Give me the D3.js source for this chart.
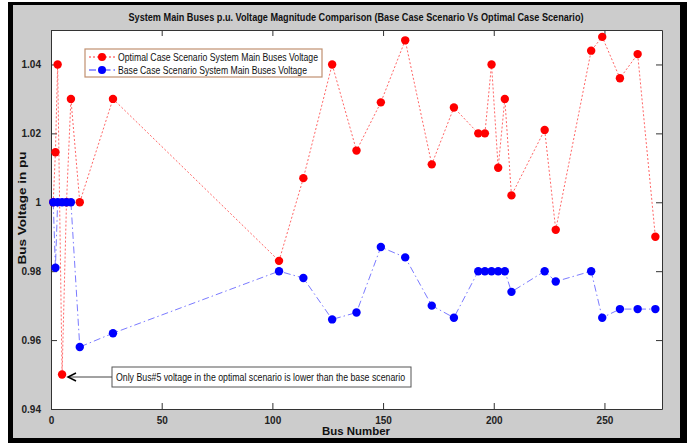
<!DOCTYPE html>
<html>
<head>
<meta charset="utf-8">
<script src="https://cdn.jsdelivr.net/npm/d3@7"></script>
<style>
  body { margin: 0; background: #fff; }
  text { font-family: "Liberation Sans", Arial, sans-serif; }
</style>
</head>
<body>
<div id="chart"></div>
<script>
// bus numbers shared by both scenarios
const buses = [1, 2, 3, 5, 7, 9, 13, 28, 103, 114, 127, 138, 149, 160, 172, 182, 193, 196, 199, 202, 205, 208, 223, 228, 244, 249, 257, 265, 273];
const optimalV = [1.000, 1.0145, 1.040, 0.950, 1.000, 1.030, 1.000, 1.030, 0.983, 1.007, 1.040, 1.015, 1.029, 1.047, 1.011, 1.0275, 1.020, 1.020, 1.040, 1.010, 1.030, 1.002, 1.021, 0.992, 1.044, 1.048, 1.036, 1.043, 0.990];
const baseV = [1.000, 0.981, 1.000, 1.000, 1.000, 1.000, 0.958, 0.962, 0.980, 0.978, 0.966, 0.968, 0.987, 0.984, 0.970, 0.9665, 0.980, 0.980, 0.980, 0.980, 0.980, 0.974, 0.980, 0.977, 0.980, 0.9665, 0.969, 0.969, 0.969];
const xTicks = [0, 50, 100, 150, 200, 250];
const yTicks = [0.94, 0.96, 0.98, 1.00, 1.02, 1.04];
const legendLabels = ["Optimal Case Scenario System Main Buses Voltage", "Base Case Scenario System Main Buses Voltage"];
const noteText = "Only Bus#5 voltage in the optimal scenario is lower than the base scenario";

const W = 691, H = 443;
const svg = d3.select("#chart").append("svg")
  .attr("width", W).attr("height", H);

// figure frame
svg.append("rect").attr("x", 8).attr("y", 2).attr("width", 679).attr("height", 441).attr("fill", "#000");
svg.append("rect").attr("x", 13).attr("y", 5).attr("width", 667).attr("height", 433).attr("fill", "#cccccc");

const x = d3.scaleLinear().domain([0, 276]).range([51, 662]);
const y = d3.scaleLinear().domain([0.94, 1.05]).range([409, 30]);

// axes box
svg.append("rect")
  .attr("x", x(0)).attr("y", y(1.05))
  .attr("width", x(276) - x(0)).attr("height", y(0.94) - y(1.05))
  .attr("fill", "#fff");

const tickFmt = d => d === 1 ? "1" : d3.format(".2f")(d);

svg.append("g").attr("transform", `translate(0,${y(0.94)})`)
  .call(d3.axisBottom(x).tickValues(xTicks).tickSizeInner(-6).tickSizeOuter(0).tickPadding(8))
  .call(g => g.selectAll("text").attr("font-size", 10).attr("font-weight", "bold").attr("fill", "#222"));
svg.append("g").attr("transform", `translate(0,${y(1.05)})`)
  .call(d3.axisTop(x).tickValues(xTicks).tickSizeInner(-6).tickSizeOuter(0).tickFormat(""));
svg.append("g").attr("transform", `translate(${x(0)},0)`)
  .call(d3.axisLeft(y).tickValues(yTicks).tickSizeInner(-6).tickSizeOuter(0).tickPadding(10).tickFormat(tickFmt))
  .call(g => g.selectAll("text").attr("font-size", 10).attr("font-weight", "bold").attr("fill", "#222"));
svg.append("g").attr("transform", `translate(${x(276)},0)`)
  .call(d3.axisRight(y).tickValues(yTicks).tickSizeInner(-6).tickSizeOuter(0).tickFormat(""));
svg.selectAll(".domain").attr("stroke", "#333");
svg.selectAll(".tick line").attr("stroke", "#333");

// series
const line = d3.line().x(d => x(d[0])).y(d => y(d[1]));
const optPts = buses.map((b, i) => [b, optimalV[i]]);
const basePts = buses.map((b, i) => [b, baseV[i]]);

svg.append("path").datum(optPts).attr("d", line)
  .attr("fill", "none").attr("stroke", "#ff3333").attr("stroke-opacity", 0.75)
  .attr("stroke-width", 1).attr("stroke-dasharray", "2,2");
svg.append("g").selectAll("circle").data(optPts).join("circle")
  .attr("cx", d => x(d[0])).attr("cy", d => y(d[1])).attr("r", 4.2).attr("fill", "#ff0000");

svg.append("path").datum(basePts).attr("d", line)
  .attr("fill", "none").attr("stroke", "#3333ff").attr("stroke-opacity", 0.65)
  .attr("stroke-width", 1).attr("stroke-dasharray", "7,3,1.5,3");
svg.append("g").selectAll("circle").data(basePts).join("circle")
  .attr("cx", d => x(d[0])).attr("cy", d => y(d[1])).attr("r", 4.2).attr("fill", "#0000ff");

// legend
const lg = svg.append("g");
lg.append("rect").attr("x", 85).attr("y", 49).attr("width", 237).attr("height", 28)
  .attr("fill", "#fff").attr("stroke", "#c09070").attr("stroke-width", 1.2);
const lgStyles = [
  { stroke: "#ff3333", dash: "2,2", fill: "#ff0000", w: 200 },
  { stroke: "#3333ff", dash: "7,3,1.5,3", fill: "#0000ff", w: 189 }
];
legendLabels.forEach((t, i) => {
  const cy = 57 + i * 13;
  lg.append("line").attr("x1", 89).attr("x2", 115).attr("y1", cy).attr("y2", cy)
    .attr("stroke", lgStyles[i].stroke).attr("stroke-dasharray", lgStyles[i].dash);
  lg.append("circle").attr("cx", 102).attr("cy", cy).attr("r", 4).attr("fill", lgStyles[i].fill);
  lg.append("text").attr("x", 118).attr("y", cy + 3.5).attr("font-size", 10.5)
    .attr("textLength", lgStyles[i].w).attr("lengthAdjust", "spacingAndGlyphs")
    .attr("fill", "#111").text(t);
});

// annotation
const ng = svg.append("g");
ng.append("rect").attr("x", 112).attr("y", 367).attr("width", 299).attr("height", 20)
  .attr("fill", "#fff").attr("stroke", "#555").attr("stroke-width", 1);
ng.append("text").attr("x", 116).attr("y", 381).attr("font-size", 10.5)
  .attr("textLength", 289).attr("lengthAdjust", "spacingAndGlyphs")
  .attr("fill", "#111").text(noteText);
ng.append("line").attr("x1", 112).attr("x2", 68).attr("y1", 377).attr("y2", 377)
  .attr("stroke", "#444").attr("stroke-width", 1);
ng.append("path").attr("d", "M76,373 L68,377 L76,381")
  .attr("fill", "none").attr("stroke", "#000").attr("stroke-width", 1.5);

// titles
svg.append("text").attr("x", 356).attr("y", 21).attr("text-anchor", "middle")
  .attr("font-size", 11).attr("font-weight", "bold")
  .attr("textLength", 455).attr("lengthAdjust", "spacingAndGlyphs")
  .attr("fill", "#111")
  .text("System Main Buses p.u. Voltage Magnitude Comparison (Base Case Scenario Vs Optimal Case Scenario)");
svg.append("text").attr("x", 356).attr("y", 435).attr("text-anchor", "middle")
  .attr("font-size", 11.5).attr("font-weight", "bold").attr("fill", "#111")
  .attr("textLength", 68).attr("lengthAdjust", "spacingAndGlyphs")
  .text("Bus Number");
svg.append("text").attr("transform", "translate(26,208) rotate(-90)").attr("text-anchor", "middle")
  .attr("font-size", 11.5).attr("font-weight", "bold").attr("fill", "#111")
  .attr("textLength", 113).attr("lengthAdjust", "spacingAndGlyphs")
  .text("Bus Voltage in pu");
</script>
</body>
</html>
